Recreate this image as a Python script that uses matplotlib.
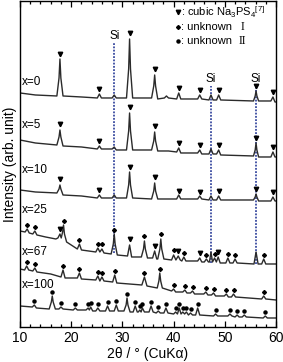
import numpy as np
import matplotlib
matplotlib.use("Agg")
import matplotlib.pyplot as plt
from matplotlib.ticker import MultipleLocator

plt.rcParams["font.family"] = ["Liberation Sans", "DejaVu Sans"]
plt.rcParams["mathtext.fontset"] = "custom"
plt.rcParams["mathtext.rm"] = "Liberation Sans"
plt.rcParams["mathtext.it"] = "Liberation Sans:italic"

# ---- XRD traces (2theta, stacked intensity, arb. unit) ----
# x = 0, 5, 10 share the same sampling of 2theta
tt_na = [10, 13, 17.2, 17.62, 17.8, 17.98, 18.4, 22, 25.1, 25.5, 25.9, 28.0, 28.4, 28.8,
         30.8, 31.22, 31.4, 31.58, 32.0, 35.7, 36.12, 36.3, 36.48, 36.9, 38.2, 38.6, 39.0,
         40.6, 41.0, 41.4, 44.7, 45.1, 45.5, 46.9, 47.3, 47.7, 48.4, 48.8, 49.2,
         55.6, 55.93, 56.1, 56.27, 56.6, 59.0, 59.4, 59.8, 60]
yy0 = [234, 232, 231, 249, 268, 249, 231, 230, 229, 233, 229, 229, 232, 229,
       229, 258, 288, 258, 229, 229, 241, 252, 241, 228, 229, 231, 229,
       228, 234, 228, 228, 232, 228, 227, 232, 227, 227, 232, 227,
       226, 231, 236, 231, 226, 226, 230, 225, 225]
yy5 = [187, 184, 182, 190, 197, 190, 181, 180, 178, 181, 178, 178, 180, 177,
       177, 196, 214, 196, 177, 177, 186, 195, 186, 176, 176, 176, 176,
       175, 179, 174, 174, 177, 173, 173, 178, 173, 173, 177, 172,
       171, 177, 184, 177, 170, 170, 175, 170, 170]
yy10 = [137, 135, 134, 138, 142, 138, 132, 131, 129, 132, 129, 129, 132, 129,
        129, 142, 155, 142, 129, 128, 136, 144, 136, 128, 128, 128, 128,
        128, 132, 128, 128, 131, 128, 127, 131, 127, 127, 131, 127,
        127, 130, 133, 130, 126, 126, 130, 126, 126]

tt25 = [10, 11.0, 11.4, 11.8, 12.5, 12.9, 13.3, 15, 17.0, 17.4, 17.8, 18.05, 18.32, 18.5, 18.68, 19.1,
        21.2, 21.6, 22.0, 24.8, 25.2, 25.6, 26.0, 26.4, 27.8, 28.22, 28.4, 28.58, 29.0, 31.0, 31.4, 31.8,
        33.7, 34.12, 34.3, 34.48, 34.9, 35.9, 36.3, 36.7, 36.9, 37.32, 37.5, 37.68, 38.1,
        39.6, 40.0, 40.45, 40.9, 41.3, 41.6, 42.0, 42.4, 44.7, 45.1, 45.5, 46.0, 46.4, 46.8,
        47.0, 47.3, 47.6, 48.0, 48.35, 48.7, 49.1, 50.2, 50.6, 51.0, 51.6, 52.0, 52.4,
        55.7, 56.1, 56.5, 57.2, 57.6, 58.0, 60]
yy25 = [96, 95, 98, 94, 93, 96, 92, 90, 88, 89, 93, 89, 95, 102, 93, 85,
        78, 83, 77, 75, 79, 75, 78, 74, 73, 83, 93, 83, 72, 71, 82, 70,
        70, 78, 86, 78, 69, 69, 76, 68, 68, 78, 88, 78, 68,
        67, 72, 67, 71, 67, 66, 70, 66, 66, 69, 65, 65, 68, 65,
        65, 75, 65, 69, 65, 70, 64, 64, 69, 64, 64, 68, 64,
        63, 75, 63, 63, 68, 63, 63]

tt67 = [10, 10.9, 11.3, 11.7, 12.5, 12.9, 13.3, 16, 18.0, 18.4, 18.8, 21.2, 21.6, 22.0,
        24.8, 25.2, 25.6, 26.0, 26.4, 28.1, 28.5, 28.9, 33.8, 34.3, 34.8,
        36.8, 37.12, 37.3, 37.48, 37.8, 39.6, 40.0, 40.4, 41.8, 42.2, 42.6, 43.3, 43.7, 44.1,
        45.9, 46.3, 46.7, 47.4, 47.8, 48.2, 49.9, 50.3, 50.7, 51.3, 51.7, 52.1, 57.2, 57.6, 58.0, 60]
yy67 = [58, 57, 61, 57, 56, 59, 55, 53, 50, 57, 49, 49, 54, 48,
        47, 51, 46, 50, 46, 45, 52, 44, 42, 50, 41,
        39, 46, 54, 46, 39, 36, 38, 35, 35, 37, 34, 34, 36, 33,
        33, 35, 32, 32, 34, 31, 31, 33, 30, 30, 33, 30, 28, 31, 28, 27]

tt100 = [10, 12.4, 12.8, 13.2, 15.7, 16.12, 16.3, 16.48, 16.9, 17.6, 18.0, 18.4, 20.4, 20.8, 21.2,
         22.9, 23.3, 23.55, 23.8, 24.2, 24.8, 25.2, 25.6, 26.7, 27.1, 27.5, 28.4, 28.8, 29.2,
         30.3, 30.72, 30.9, 31.08, 31.5, 32.1, 32.5, 32.9, 33.1, 33.4, 33.65, 33.9, 34.3,
         35.2, 35.6, 36.0, 36.6, 37.0, 37.4, 38.1, 38.5, 38.9, 40.0, 40.4, 40.75, 41.1, 41.45,
         41.8, 42.15, 42.5, 42.9, 43.3, 43.7, 44.3, 44.7, 45.1, 47.8, 48.2, 48.6, 50.6, 51.0, 51.4,
         52.0, 52.4, 52.8, 53.4, 53.8, 54.2, 57.5, 57.9, 58.3, 60]
yy100 = [21, 20, 22, 19, 18, 25, 31, 25, 18, 18, 20, 18, 17, 19, 17,
         17, 19, 17, 20, 16, 16, 19, 16, 16, 21, 16, 16, 22, 16,
         16, 22, 29, 22, 15, 15, 21, 15, 15, 17, 15, 19, 15,
         15, 21, 15, 14, 16, 14, 14, 19, 14, 13, 15, 13, 19, 13,
         15, 13, 15, 12, 14, 12, 12, 19, 12, 11, 13, 11, 11, 13, 11,
         10, 12, 10, 10, 12, 10, 9, 11, 9, 9]

traces = [(tt_na, yy0), (tt_na, yy5), (tt_na, yy10), (tt25, yy25), (tt67, yy67), (tt100, yy100)]
trace_labels = ["x=0", "x=5", "x=10", "x=25", "x=67", "x=100"]
label_y = [245, 202, 157, 117, 75, 42]

# ---- peak markers ----
tri_pos = [17.8, 25.5, 31.4, 36.3, 41.0, 45.1, 48.8, 56.1, 59.4]
tri0_y = [273, 238, 294, 258, 239, 237, 237, 241, 235]
tri5_y = [203, 186, 220, 201, 184, 182, 182, 189, 180]
tri10_y = [148, 137, 160, 150, 136, 135, 136, 138, 135]
tri25_pos = [17.8, 31.4, 36.3, 40.9, 45.1, 48.7]
tri25_y = [98, 88, 81, 76, 74, 75]

dia25_pos = [11.4, 12.9, 18.5, 21.6, 25.2, 26.0, 28.4, 34.3, 37.5, 40.0, 42.0, 46.4, 48.0, 50.6, 52.0, 57.6]
dia25_y = [102, 100, 106, 87, 83, 83, 97, 91, 93, 77, 74, 72, 73, 73, 72, 72]
dia67_pos = [11.3, 12.9, 18.4, 21.6, 25.2, 26.0, 28.5, 34.3, 37.3, 40.0, 42.2, 43.7, 46.3, 47.8, 50.3, 51.7, 57.6]
dia67_y = [65, 63, 61, 58, 55, 54, 56, 54, 58, 42, 41, 40, 39, 38, 37, 37, 35]
dot100_pos = [12.8, 16.3, 18.0, 20.8, 23.3, 23.8, 25.2, 27.1, 28.8, 30.9, 32.5, 33.4, 33.9, 35.6,
              37.0, 38.5, 40.4, 41.1, 41.8, 42.5, 43.3, 44.7, 48.2, 51.0, 52.4, 53.8, 57.9]
dot100_y = [26, 35, 24, 23, 23, 24, 23, 25, 26, 33, 25, 21, 23, 25,
            20, 23, 19, 23, 19, 19, 18, 23, 17, 17, 16, 16, 15]

# ---- Si reflections ----
si_pos = [28.4, 47.3, 56.1]
si_top = [284, 241, 241]
si_bottom = [74, 64, 63]
si_text_y = [291, 248, 248]

c_line = '#2b2b2b'
c_si = '#3a4ba0'

fig = plt.figure(figsize=(2.83, 3.62), dpi=100)
ax = fig.add_axes([0.0707, 0.0967, 0.9046, 0.9006])

ax.vlines(si_pos, si_bottom, si_top, colors=c_si, linestyles=(0, (1, 0.8)), lw=1.3, zorder=1)
for p, ty in zip(si_pos, si_text_y):
    ax.text(p, ty, "Si", ha='center', va='center', fontsize=8.5)

for (tt, yy) in traces:
    ax.plot(tt, yy, '-', color=c_line, lw=1.0, zorder=2)

for lab, ly in zip(trace_labels, label_y):
    ax.text(10.35, ly, lab, ha='left', va='center', fontsize=8.5)

mk = dict(linestyle='none', color='black', zorder=3)
for ty in [tri0_y, tri5_y, tri10_y]:
    ax.plot(tri_pos, ty, marker='v', ms=3.2, **mk)
ax.plot(tri25_pos, tri25_y, marker='v', ms=3.2, **mk)
ax.plot(dia25_pos, dia25_y, marker='D', ms=2.0, **mk)
ax.plot(dia67_pos, dia67_y, marker='D', ms=2.0, **mk)
ax.plot(dot100_pos, dot100_y, marker='o', ms=2.2, **mk)

# legend drawn by hand
ax.plot([40.8], [315], marker='v', ms=3.2, **mk)
ax.plot([40.8], [300], marker='D', ms=2.0, **mk)
ax.plot([40.8], [286], marker='o', ms=2.2, **mk)
ax.text(41.4, 315, ": cubic Na$_3$PS$_4$$^{[7]}$", ha='left', va='center', fontsize=8)
ax.text(41.4, 300, ": unknown", ha='left', va='center', fontsize=8)
ax.text(41.4, 286, ": unknown", ha='left', va='center', fontsize=8)
ax.text(53.4, 300, "I", ha='center', va='center', fontsize=8.5, family='Liberation Serif')
ax.text(53.4, 286, "II", ha='center', va='center', fontsize=8.5, family='Liberation Serif')

ax.set_xlim(10, 60)
ax.set_ylim(0, 326)
ax.xaxis.set_major_locator(MultipleLocator(10))
ax.xaxis.set_minor_locator(MultipleLocator(2))
ax.tick_params(which='both', direction='in', top=True, bottom=True, left=False, right=False,
               labelleft=False, labelsize=10, width=0.9, pad=3)
ax.tick_params(which='major', length=4.5)
ax.tick_params(which='minor', length=2.5)
for s in ax.spines.values():
    s.set_linewidth(1.0)

ax.set_xlabel("2θ / ° (CuKα)", fontsize=10, labelpad=1)
ax.set_ylabel("Intensity (arb. unit)", fontsize=10, labelpad=2)

fig.savefig("out.png", dpi=100)
